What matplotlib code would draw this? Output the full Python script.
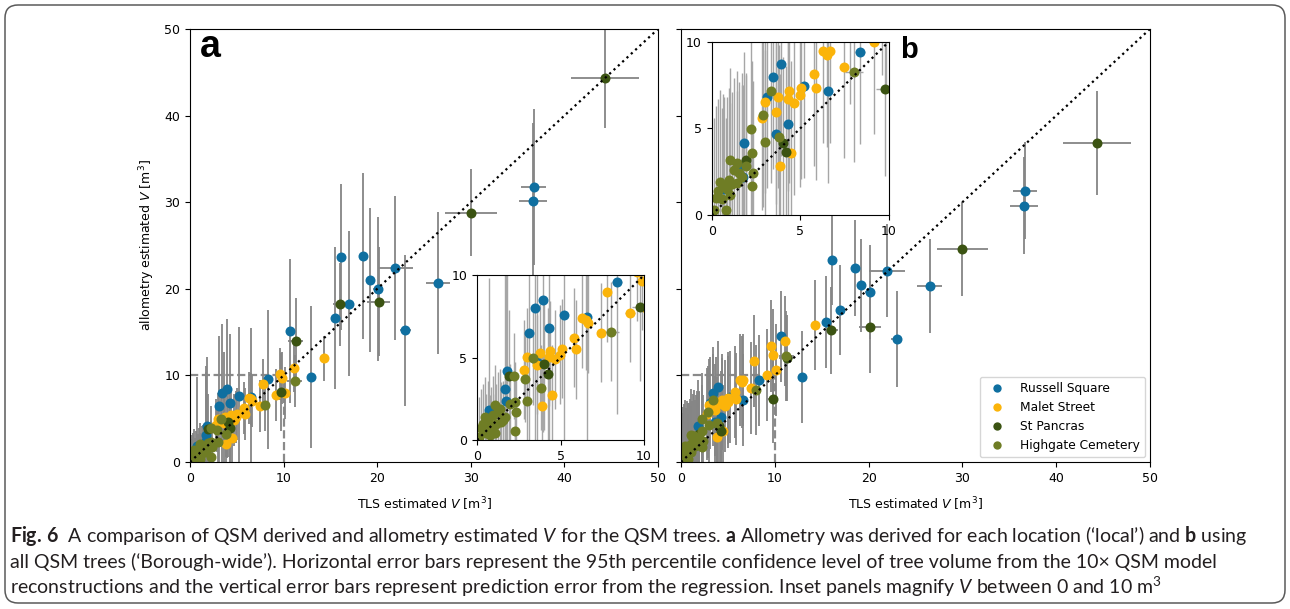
import matplotlib
matplotlib.use("Agg")
import matplotlib.pyplot as plt
from matplotlib.lines import Line2D
from matplotlib.patches import FancyBboxPatch

CAP_FONT = "Lato"

plt.rcParams["font.size"] = 9
plt.rcParams["mathtext.fontset"] = "custom"
plt.rcParams["mathtext.rm"] = CAP_FONT
plt.rcParams["mathtext.it"] = CAP_FONT + ":italic"
plt.rcParams["mathtext.bf"] = CAP_FONT + ":bold"

# ---------------- data ----------------
locations = ["Russell Square", "Malet Street", "St Pancras", "Highgate Cemetery"]
colors = ["#0f6fa0", "#fbb40a", "#3b5312", "#6f7d25"]

# Russell Square
rs_tls = [36.7, 36.6, 26.5, 21.95, 23.0, 20.1, 19.2, 18.5, 17.0, 16.15, 15.5, 12.95, 10.7,
          8.36, 3.92, 3.46, 5.2, 6.56, 3.1, 4.3, 1.82, 1.7, 1.76, 0.72, 3.6]
rs_tls_err = [1.3, 1.5, 1.3, 1.9, 0.6, 0.5, 0.4, 0.4, 0.4, 0.4, 0.4, 0.3, 0.3,
              0.3, 0.15, 0.15, 0.2, 0.2, 0.1, 0.15, 0.1, 0.1, 0.1, 0.05, 0.1]
rs_local = [31.8, 30.1, 20.7, 22.4, 15.2, 20.0, 21.0, 23.8, 18.3, 23.65, 16.65, 9.8, 15.1,
            9.55, 8.48, 7.98, 7.6, 7.47, 6.5, 6.8, 4.18, 3.07, 2.38, 1.82, 4.7]
rs_local_err = [9.0, 9.0, 8.2, 8.3, 8.7, 8.3, 8.3, 9.6, 8.4, 8.4, 8.2, 8.2, 8.3,
                8.0, 8.0, 8.0, 8.0, 8.0, 8.0, 8.0, 8.0, 8.0, 8.0, 8.0, 8.0]
rs_borough = [31.3, 29.6, 20.3, 22.1, 14.2, 19.6, 20.4, 22.4, 17.5, 23.3, 16.2, 9.8, 14.5,
              9.42, 8.7, 7.98, 7.46, 7.15, 6.83, 5.23, 4.13, 2.9, 2.2, 1.5, 4.65]
rs_borough_err = [5.6, 5.6, 5.4, 5.4, 5.5, 5.4, 5.4, 5.5, 5.2, 5.2, 5.3, 5.3, 5.3,
                  5.3, 5.3, 5.3, 5.3, 5.3, 5.3, 5.3, 5.3, 5.3, 5.3, 5.3, 5.3]

# Malet Street
ms_tls = [14.3, 11.1, 9.6, 9.86, 10.1, 9.15, 7.8, 7.44, 6.26, 6.5, 6.66, 5.8, 5.9, 5.06,
          4.96, 4.36, 4.32, 4.66, 3.76, 3.6, 3.02, 2.82, 4.48, 3.86]
ms_tls_err = [0.4, 0.3, 0.3, 0.3, 0.3, 0.3, 0.2, 0.2, 0.2, 0.2, 0.2, 0.15, 0.15, 0.15,
              0.15, 0.1, 0.1, 0.1, 0.1, 0.1, 0.1, 0.1, 0.1, 0.1]
ms_local = [12.0, 10.9, 10.2, 9.66, 8.0, 7.7, 8.95, 6.5, 7.37, 7.27, 7.07, 6.2, 5.5, 5.54,
            5.17, 5.4, 5.05, 4.9, 5.25, 4.55, 5.02, 4.25, 2.75, 2.08]
ms_local_err = [2.6, 2.8, 3.0, 3.0, 3.0, 3.0, 3.0, 3.0, 3.0, 3.0, 3.0, 3.0, 3.0, 3.0,
                3.0, 3.0, 3.0, 3.0, 3.0, 3.0, 3.0, 3.0, 3.0, 3.0]
ms_borough = [15.8, 14.0, 13.4, 12.4, 10.6, 10.0, 11.7, 8.56, 9.46, 9.23, 9.46, 8.12, 7.3, 7.35,
              6.92, 7.15, 6.67, 6.44, 6.83, 5.96, 6.54, 5.58, 3.56, 2.85]
ms_borough_err = [5.2, 5.2, 5.3, 5.3, 5.3, 5.3, 5.3, 5.3, 5.3, 5.3, 5.3, 5.3, 5.3, 5.3,
                  5.3, 5.3, 5.3, 5.3, 5.3, 5.3, 5.3, 5.3, 5.3, 5.3]

# St Pancras
sp_tls = [44.35, 30.0, 20.15, 16.0, 11.3, 9.76, 4.02, 4.22, 1.92]
sp_tls_err = [3.6, 2.75, 1.2, 0.7, 0.8, 0.5, 0.2, 0.2, 0.1]
sp_local = [44.35, 28.8, 18.5, 18.2, 14.0, 8.05, 4.6, 3.98, 3.86]
sp_local_err = [5.8, 5.0, 6.3, 4.8, 4.9, 4.5, 4.0, 4.0, 4.0]
sp_borough = [36.8, 24.6, 15.6, 15.2, 12.0, 7.25, 4.13, 3.62, 3.2]
sp_borough_err = [6.0, 5.4, 5.3, 5.0, 5.0, 5.0, 5.0, 5.0, 5.0]

# Highgate Cemetery
hc_tls = [11.2, 8.02, 3.36, 2.90, 2.20, 3.80, 3.02, 2.32, 2.26, 1.06, 1.40, 1.56, 1.16, 0.86,
          0.46, 0.26, 0.56, 1.06, 1.96, 2.26, 0.12, 0.35, 0.65, 0.95, 1.25, 1.70, 0.80, 1.45]
hc_tls_err = [0.8, 0.5, 0.15, 0.15, 0.1, 0.15, 0.1, 0.1, 0.1, 0.05, 0.05, 0.05, 0.05, 0.05,
              0.05, 0.05, 0.05, 0.05, 0.05, 0.05, 0.05, 0.05, 0.05, 0.05, 0.05, 0.05, 0.05, 0.05]
hc_local = [9.4, 6.57, 4.95, 3.72, 3.90, 3.18, 2.35, 1.68, 0.55, 2.12, 1.90, 1.20, 1.00, 0.80,
            1.40, 0.70, 0.40, 0.40, 2.20, 2.30, 0.20, 1.0, 1.2, 1.5, 1.7, 1.4, 0.3, 1.1]
hc_local_err = [3.0, 3.0, 2.8, 2.6, 2.6, 2.6, 2.5, 2.4, 2.4, 2.4, 2.4, 2.4, 2.4, 2.4,
                2.4, 2.4, 2.4, 2.4, 2.4, 2.4, 2.4, 2.4, 2.4, 2.4, 2.4, 2.4, 2.4, 2.4]
hc_borough = [12.2, 8.27, 7.17, 5.77, 4.96, 4.52, 4.23, 2.44, 1.69, 3.17, 2.98, 2.40, 1.80, 1.50,
              1.90, 1.00, 0.90, 1.15, 2.80, 3.56, 0.30, 1.4, 1.7, 2.0, 2.6, 2.2, 0.29, 1.85]
hc_borough_err = [5.2, 5.2, 5.3, 5.3, 5.3, 5.3, 5.3, 5.3, 5.3, 5.3, 5.3, 5.3, 5.3, 5.3,
                  5.3, 5.3, 5.3, 5.3, 5.3, 5.3, 5.3, 5.3, 5.3, 5.3, 5.3, 5.3, 5.3, 5.3]

groups = [
    (rs_tls, rs_tls_err, rs_local, rs_local_err, rs_borough, rs_borough_err),
    (ms_tls, ms_tls_err, ms_local, ms_local_err, ms_borough, ms_borough_err),
    (sp_tls, sp_tls_err, sp_local, sp_local_err, sp_borough, sp_borough_err),
    (hc_tls, hc_tls_err, hc_local, hc_local_err, hc_borough, hc_borough_err),
]

main_ticks = [0, 10, 20, 30, 40, 50]
inset_ticks = [0, 5, 10]

# ---------------- figure ----------------
fig = plt.figure(figsize=(12.9, 6.09), dpi=100)

border = FancyBboxPatch((0.05, 0.06), 12.8, 5.98,
                        boxstyle="round,pad=0,rounding_size=0.13",
                        transform=fig.dpi_scale_trans, facecolor="none",
                        edgecolor="#5a5a5a", linewidth=1.1, zorder=0)
fig.add_artist(border)

ax_a = fig.add_axes([0.1473, 0.2414, 0.3628, 0.7110])
ax_b = fig.add_axes([0.5279, 0.2414, 0.3636, 0.7110])
in_a = fig.add_axes([0.3698, 0.2775, 0.1295, 0.2709])
in_b = fig.add_axes([0.5517, 0.6470, 0.1374, 0.2846])


def draw(ax, which, inset):
    for (x, xe, yl, yle, yb, ybe), c in zip(groups, colors):
        y = yl if which == "a" else yb
        ye = yle if which == "a" else ybe
        ax.errorbar(x, y, xerr=xe, yerr=ye, fmt="o", color=c, ms=7.2,
                    mec="none", ecolor="#a6a6a6" if inset else "#858585",
                    elinewidth=1.0 if inset else 1.3, capsize=0)
    ax.plot([0, 50], [0, 50], ls=":", color="black", lw=1.6, zorder=3)


for ax, which in [(ax_a, "a"), (ax_b, "b")]:
    draw(ax, which, False)
    ax.plot([0, 10], [10, 10], ls="--", color="#8a8a8a", lw=1.6, zorder=1)
    ax.plot([10, 10], [0, 10], ls="--", color="#8a8a8a", lw=1.6, zorder=1)
    ax.set_xlim(0, 50)
    ax.set_ylim(0, 50)
    ax.set_xticks(main_ticks)
    ax.set_yticks(main_ticks)
    ax.set_xlabel("TLS estimated $V$ [m$^3$]", math_fontfamily="dejavusans", labelpad=8)

ax_a.set_ylabel("allometry estimated $V$ [m$^3$]", math_fontfamily="dejavusans", labelpad=5)
ax_b.tick_params(labelleft=False)

for ax, which in [(in_a, "a"), (in_b, "b")]:
    draw(ax, which, True)
    ax.set_xlim(0, 10)
    ax.set_ylim(0, 10)
    ax.set_xticks(inset_ticks)
    ax.set_yticks(inset_ticks)

ax_a.text(0.022, 0.935, "a", transform=ax_a.transAxes, fontsize=27, fontweight="bold",
          family="Liberation Sans", va="baseline", ha="left")
ax_b.text(0.467, 0.933, "b", transform=ax_b.transAxes, fontsize=21, fontweight="bold",
          family="Liberation Sans", va="baseline", ha="left")

handles = [Line2D([], [], marker="o", ls="none", color=c, mec="none", ms=6) for c in colors]
ax_b.legend(handles, locations, loc="lower right", fontsize=8.8, borderaxespad=0.4,
            handletextpad=0.9)

# ---------------- caption ----------------
cap_lines = [
    r"$\mathbf{Fig.\,6}$  A comparison of QSM derived and allometry estimated $\mathit{V}$ for the QSM trees. "
    r"$\mathbf{a}$ Allometry was derived for each location (‘local’) and $\mathbf{b}$ using",
    r"all QSM trees (‘Borough-wide’). Horizontal error bars represent the 95th percentile confidence level "
    r"of tree volume from the 10× QSM model",
    r"reconstructions and the vertical error bars represent prediction error from the regression. "
    r"Inset panels magnify $\mathit{V}$ between 0 and 10 m$^3$",
]
cap_y = [0.110, 0.068, 0.0255]
caps = []
for s, yy in zip(cap_lines, cap_y):
    caps.append(fig.text(0.0078, yy, s, fontsize=12, family=CAP_FONT, color="#231f20",
                         va="baseline", ha="left", math_fontfamily="custom"))

fig.canvas.draw()
w = caps[0].get_window_extent().width
scale = 1236.0 / w
for t in caps:
    t.set_fontsize(12 * scale)

fig.savefig("out.png", dpi=100)
